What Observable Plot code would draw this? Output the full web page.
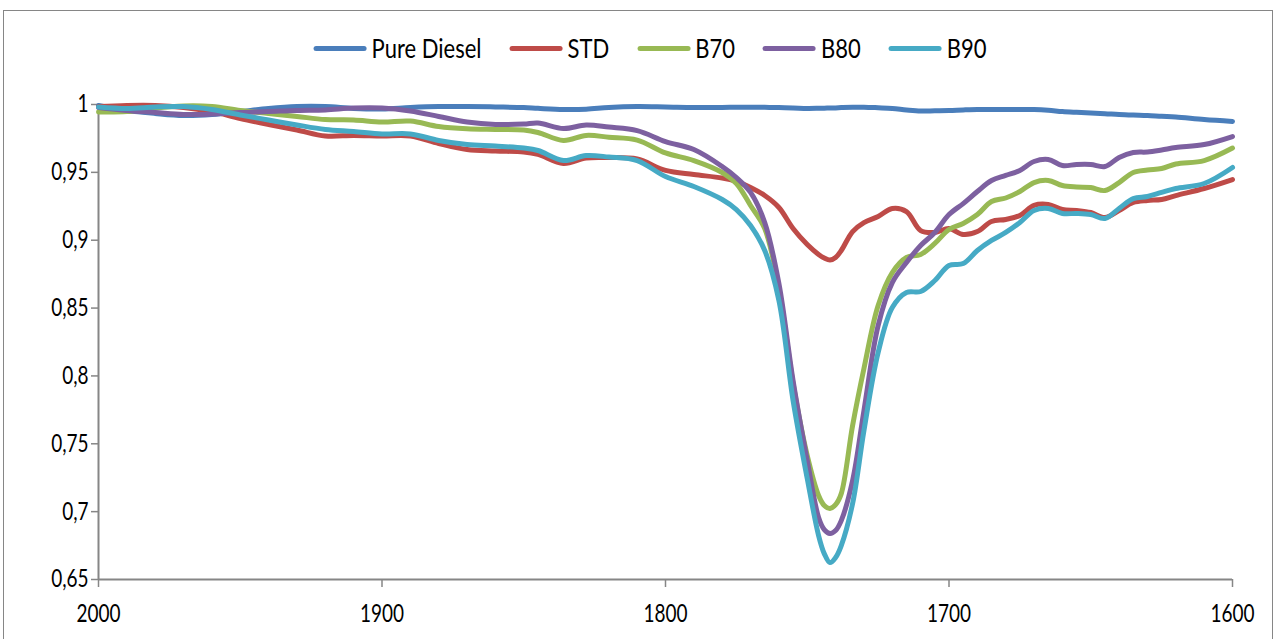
<!DOCTYPE html>
<html>
<head>
<meta charset="utf-8">
<script src="https://cdn.jsdelivr.net/npm/d3@7"></script>
<script src="https://cdn.jsdelivr.net/npm/@observablehq/plot@0.6"></script>
<style>
  html, body { margin: 0; padding: 0; overflow: hidden; background: #fff; width: 1278px; height: 639px; }
  #frame { position: absolute; left: 3px; top: 10px; width: 1270px; height: 700px; border: 1.5px solid #868686; box-sizing: border-box; }
  #legend { position: relative; height: 64px; }
  #legend .row { position: absolute; left: 650px; top: 37px; transform: translateX(-50%); display: flex; align-items: center; white-space: nowrap; font-family: Lato, "Liberation Sans", sans-serif; font-size: 22px; color: #000; }
  #legend .item { display: flex; align-items: center; margin: 0 14px; }
  #legend .sw { display: inline-block; width: 53px; height: 5px; border-radius: 3px; margin-right: 5px; }
  #legend .lbl { display: inline-block; transform: scaleY(1.25); line-height: 22px; }
  #chart { position: relative; }
</style>
</head>
<body>
<div id="frame"></div>
<div id="legend"><div class="row"></div></div>
<div id="chart"></div>
<script>
const wavenumber = [2000,1990,1980,1970,1960,1950,1940,1930,1920,1910,1900,1890,1880,1870,1860,1850,1845,1836,1828,1820,1810,1800,1790,1780,1775,1770,1765,1760,1755,1750,1746,1744,1742,1740,1738,1734,1730,1725,1720,1715,1710,1705,1700,1695,1690,1685,1680,1675,1670,1665,1660,1655,1650,1645,1640,1635,1630,1625,1620,1610,1600];

const pureDiesel = [0.9993,0.9956,0.9934,0.9919,0.9926,0.9948,0.9971,0.9985,0.9985,0.9971,0.9967,0.9978,0.9985,0.9985,0.9982,0.9978,0.9972,0.9963,0.9965,0.9978,0.9985,0.9982,0.9978,0.9978,0.998,0.998,0.9979,0.9978,0.9975,0.9971,0.9972,0.9973,0.9974,0.9975,0.9977,0.998,0.998,0.9976,0.9971,0.996,0.9952,0.9954,0.9956,0.996,0.9963,0.9963,0.9963,0.9963,0.9963,0.9958,0.9948,0.9942,0.9937,0.9932,0.9926,0.9922,0.9919,0.9913,0.9908,0.9889,0.9875];

const std = [0.9985,0.9993,0.9993,0.9978,0.9948,0.9897,0.9853,0.9812,0.9768,0.9772,0.9768,0.9768,0.9713,0.9668,0.9657,0.9650,0.9632,0.9565,0.9606,0.9609,0.9598,0.9514,0.9484,0.9458,0.9433,0.9388,0.9329,0.9241,0.9086,0.8968,0.8895,0.8869,0.8854,0.8873,0.8924,0.9064,0.9130,0.9175,0.9234,0.9211,0.9071,0.9057,0.9086,0.9042,0.9064,0.9138,0.9153,0.9182,0.9256,0.9263,0.9226,0.9219,0.9204,0.9167,0.9219,0.9278,0.9293,0.9300,0.9329,0.9381,0.9447];

const b70 = [0.9945,0.9948,0.9974,0.9989,0.9985,0.9956,0.9934,0.9912,0.9889,0.9886,0.9871,0.9878,0.9838,0.9821,0.9816,0.9812,0.9794,0.9735,0.9772,0.9759,0.9738,0.9643,0.9587,0.9499,0.9418,0.9256,0.9086,0.8644,0.7944,0.7413,0.7119,0.7045,0.7023,0.7052,0.7133,0.7635,0.8055,0.8519,0.8762,0.8873,0.8895,0.8976,0.9079,0.9123,0.9189,0.9285,0.9311,0.9359,0.9425,0.9440,0.9403,0.9392,0.9388,0.9366,0.9425,0.9499,0.9517,0.9528,0.9562,0.9587,0.9679];

const b80 = [0.9978,0.9956,0.9941,0.9926,0.9930,0.9941,0.9948,0.9956,0.9960,0.9974,0.9974,0.9952,0.9912,0.9871,0.9853,0.9856,0.9864,0.9823,0.9849,0.9834,0.9808,0.9727,0.9668,0.9543,0.9462,0.9352,0.9130,0.8681,0.7966,0.7377,0.6957,0.6868,0.6839,0.6861,0.6934,0.7229,0.7745,0.8371,0.8688,0.8836,0.8961,0.9057,0.9189,0.9270,0.9359,0.9440,0.9477,0.9514,0.9580,0.9595,0.9550,0.9558,0.9558,0.9543,0.9609,0.9646,0.9650,0.9665,0.9683,0.9705,0.9764];

const b90 = [0.9982,0.9971,0.9982,0.9985,0.9963,0.9923,0.9886,0.9849,0.9816,0.9801,0.9783,0.9783,0.9735,0.9705,0.9694,0.9679,0.9661,0.9587,0.9624,0.9613,0.9587,0.9469,0.9396,0.9300,0.9226,0.9108,0.8924,0.8556,0.7819,0.7244,0.6824,0.6691,0.6625,0.6662,0.6750,0.7060,0.7598,0.8172,0.8504,0.8615,0.8622,0.8703,0.8814,0.8828,0.8924,0.8998,0.9057,0.9130,0.9219,0.9234,0.9197,0.9197,0.9189,0.9160,0.9234,0.9307,0.9322,0.9352,0.9381,0.9418,0.9536];

const seriesNames = ["Pure Diesel", "STD", "B70", "B80", "B90"];
const seriesValues = [pureDiesel, std, b70, b80, b90];
const seriesColors = ["#4A7EBB", "#BE4B48", "#98B954", "#7D60A0", "#46AAC5"];

const xTicks = [2000, 1900, 1800, 1700, 1600];
const yTicks = [0.65, 0.7, 0.75, 0.8, 0.85, 0.9, 0.95, 1];
const yTickLabels = ["0,65", "0,7", "0,75", "0,8", "0,85", "0,9", "0,95", "1"];

const rows = [];
seriesNames.forEach((name, i) => {
  wavenumber.forEach((w, j) => rows.push({series: name, x: w, y: seriesValues[i][j]}));
});

// legend
const row = document.querySelector("#legend .row");
seriesNames.forEach((name, i) => {
  const item = document.createElement("div");
  item.className = "item";
  const sw = document.createElement("span");
  sw.className = "sw";
  sw.style.background = seriesColors[i];
  const lbl = document.createElement("span");
  lbl.className = "lbl";
  lbl.textContent = name;
  item.append(sw, lbl);
  row.append(item);
});

const axisGray = "#868686";
const chart = Plot.plot({
  width: 1278,
  height: 575,
  marginLeft: 98,
  marginRight: 46,
  marginTop: 40,
  marginBottom: 60,
  style: {fontFamily: "Lato, 'Liberation Sans', sans-serif", fontSize: "19px", color: "#000", background: "transparent", overflow: "visible"},
  x: {domain: [2000, 1600]},
  y: {domain: [0.65, 1]},
  color: {domain: seriesNames, range: seriesColors},
  marks: [
    Plot.axisX({ticks: xTicks, tickSize: 8, tickPadding: 17, stroke: axisGray, strokeWidth: 1.5, fill: "#000", label: null,
      tickFormat: d => String(d)}),
    Plot.axisY({ticks: yTicks, tickSize: 7, tickPadding: 3, stroke: axisGray, strokeWidth: 1.5, fill: "#000", label: null,
      tickFormat: d => yTickLabels[yTicks.findIndex(t => Math.abs(t - d) < 1e-9)]}),
    Plot.ruleY([0.65], {stroke: axisGray, strokeWidth: 2}),
    Plot.ruleX([2000], {stroke: axisGray, strokeWidth: 2}),
    Plot.line(rows, {x: "x", y: "y", z: "series", stroke: "series", strokeWidth: 5, curve: "catmull-rom", strokeLinecap: "round", strokeLinejoin: "round"})
  ]
});
document.getElementById("chart").append(chart);

// stretch tick labels vertically like the reference
const SY = 1.3;
chart.querySelectorAll('g[aria-label="x-axis tick label"] text, g[aria-label="y-axis tick label"] text').forEach(t => {
  let tr = t.getAttribute("transform");
  if (!tr) {
    const x = +(t.getAttribute("x") || 0), y = +(t.getAttribute("y") || 0);
    t.removeAttribute("x"); t.removeAttribute("y");
    tr = `translate(${x},${y})`;
  }
  t.setAttribute("transform", `${tr} scale(1,${SY})`);
});
</script>
</body>
</html>
